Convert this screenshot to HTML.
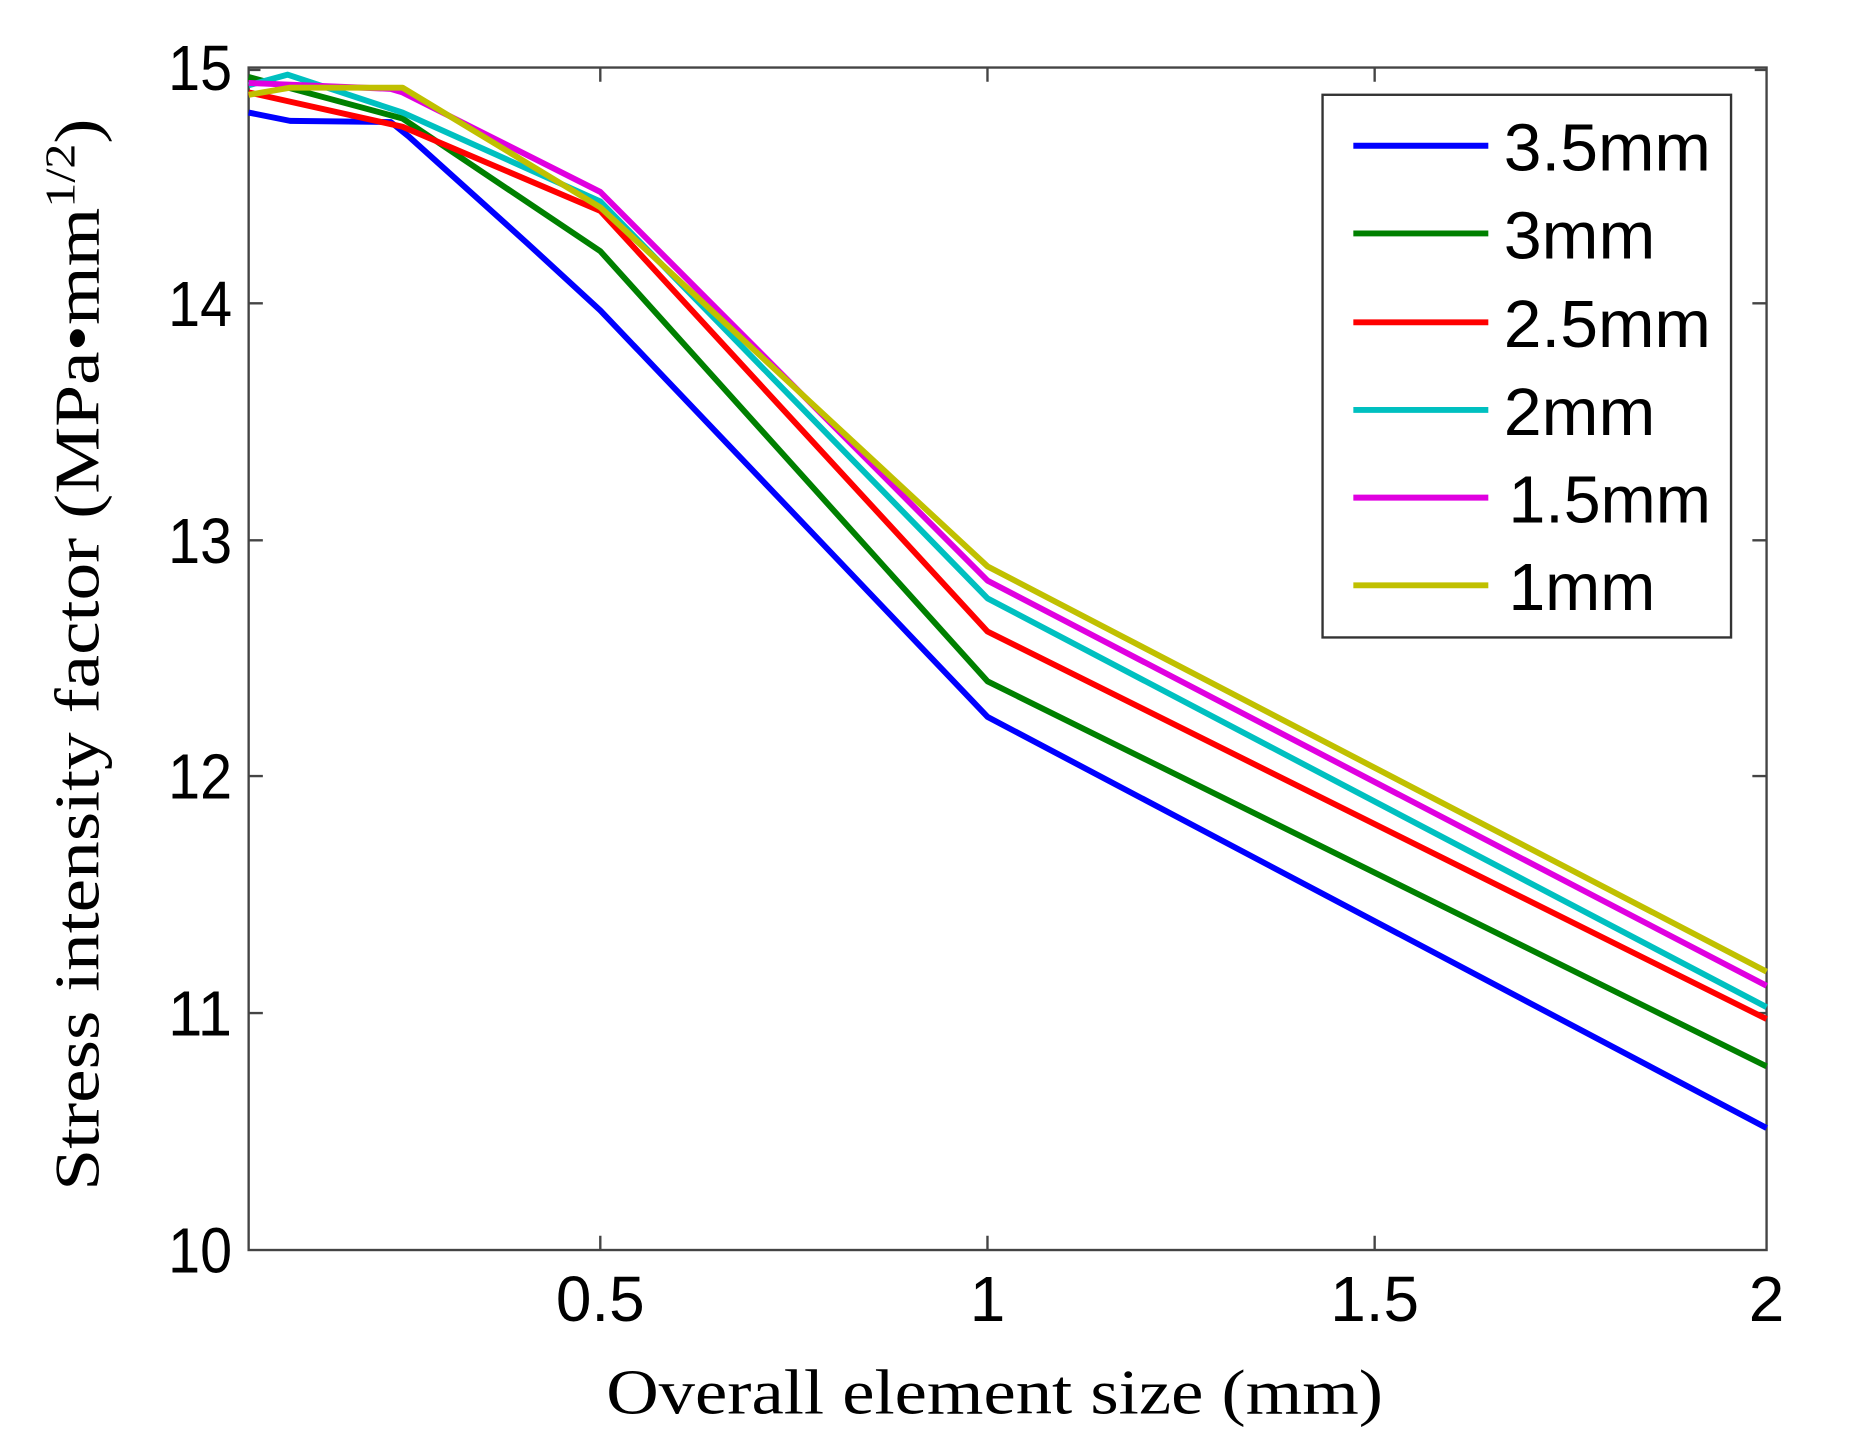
<!DOCTYPE html>
<html><head><meta charset="utf-8"><style>html,body{margin:0;padding:0;background:#fff}svg{display:block}</style></head>
<body>
<svg width="1853" height="1455" viewBox="0 0 1565 1228" preserveAspectRatio="none" xmlns="http://www.w3.org/2000/svg">
<rect width="1565" height="1228" fill="#fff"/>
<g stroke="#444" stroke-width="2" fill="none">
<rect x="210" y="57" width="1282" height="998"/>
<path d="M507,1055v-12M834,1055v-12M1161,1055v-12M507,57v12M834,57v12M1161,57v12"/>
<path d="M210,256h12M210,456h12M210,655h12M210,855h12M1492,256h-12M1492,456h-12M1492,655h-12M1492,855h-12M210,59h10M1492,59h-10"/>
</g>
<g fill="none" stroke-width="5" stroke-linejoin="round">
<polyline stroke="#0000ff" points="210,95 245,102 330,103 345,115 445,205 507,262 834,605 1492,952"/>
<polyline stroke="#008000" points="210,65 340,100 507,212 834,575 1492,900"/>
<polyline stroke="#ff0000" points="210,78 340,107 507,178 834,533 1492,860"/>
<polyline stroke="#00c0c0" points="210,72 243,63 340,95 507,170 834,505 1492,850"/>
<polyline stroke="#e000e0" points="210,70 330,75 340,78 507,162 834,490 1492,832"/>
<polyline stroke="#c0c000" points="210,80 245,74 340,74 507,175 834,478 1492,820"/>
</g>
<g font-family="Liberation Sans, Arial, sans-serif" font-size="54" fill="#000">
<text x="196" y="76" text-anchor="end" textLength="54" lengthAdjust="spacingAndGlyphs">15</text>
<text x="196" y="275" text-anchor="end" textLength="54" lengthAdjust="spacingAndGlyphs">14</text>
<text x="196" y="475" text-anchor="end" textLength="54" lengthAdjust="spacingAndGlyphs">13</text>
<text x="196" y="674" text-anchor="end" textLength="54" lengthAdjust="spacingAndGlyphs">12</text>
<text x="196" y="874" text-anchor="end" textLength="54" lengthAdjust="spacingAndGlyphs">11</text>
<text x="196" y="1074" text-anchor="end" textLength="54" lengthAdjust="spacingAndGlyphs">10</text>
<text x="507" y="1115" text-anchor="middle">0.5</text>
<text x="834" y="1115" text-anchor="middle">1</text>
<text x="1161" y="1115" text-anchor="middle">1.5</text>
<text x="1492" y="1115" text-anchor="middle">2</text>
</g>
<g font-family="Liberation Serif, Times New Roman, serif" font-size="54" fill="#000">
<text x="512" y="1193" textLength="656" lengthAdjust="spacingAndGlyphs">Overall element size (mm)</text>
<text transform="translate(83,1005) rotate(-90)" textLength="905" lengthAdjust="spacingAndGlyphs">Stress intensity factor (MPa•mm<tspan font-size="36" dy="-20">1/2</tspan><tspan dy="20">)</tspan></text>
</g>
<rect x="1117" y="80" width="345" height="458" fill="#fff" stroke="#333" stroke-width="2"/>
<g stroke-width="5">
<line x1="1143" y1="123" x2="1257" y2="123" stroke="#0000ff"/>
<line x1="1143" y1="197" x2="1257" y2="197" stroke="#008000"/>
<line x1="1143" y1="272" x2="1257" y2="272" stroke="#ff0000"/>
<line x1="1143" y1="346" x2="1257" y2="346" stroke="#00c0c0"/>
<line x1="1143" y1="420" x2="1257" y2="420" stroke="#e000e0"/>
<line x1="1143" y1="494" x2="1257" y2="494" stroke="#c0c000"/>
</g>
<g font-family="Liberation Sans, Arial, sans-serif" font-size="56" fill="#000">
<text x="1270" y="144" textLength="175" lengthAdjust="spacingAndGlyphs">3.5mm</text>
<text x="1270" y="218" textLength="128" lengthAdjust="spacingAndGlyphs">3mm</text>
<text x="1270" y="293" textLength="175" lengthAdjust="spacingAndGlyphs">2.5mm</text>
<text x="1270" y="367" textLength="128" lengthAdjust="spacingAndGlyphs">2mm</text>
<text x="1274" y="441" textLength="171" lengthAdjust="spacingAndGlyphs">1.5mm</text>
<text x="1274" y="515" textLength="124" lengthAdjust="spacingAndGlyphs">1mm</text>
</g>
</svg>
</body></html>
